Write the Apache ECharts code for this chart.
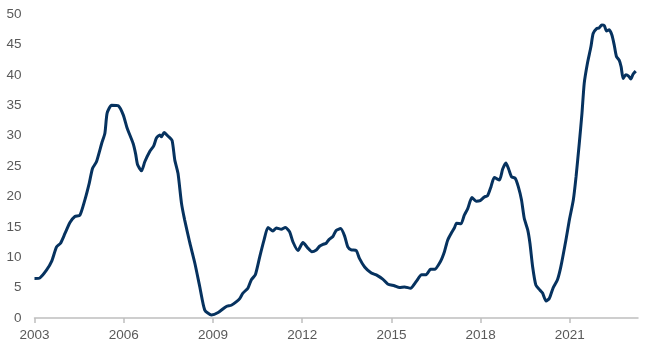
<!DOCTYPE html>
<html>
<head>
<meta charset="utf-8">
<script src="https://cdn.jsdelivr.net/npm/echarts@6/dist/echarts.min.js"></script>
<style>
  html, body { margin: 0; padding: 0; background: #fff; }
  #chart { width: 650px; height: 350px; }
</style>
</head>
<body>
<div id="chart"></div>
<script>
// x = months since Jan 2003
var months = [0, 2.2, 4.9, 6.9, 8.9, 10.5, 12.3, 14.3, 16.3, 18.3, 20.3, 22.1, 23.4, 25, 27.1, 28.4, 29.3, 31.1, 33.8, 35.8, 37.4, 39.8, 40.8, 41.6, 43.2, 44.5, 46.5, 48.1, 49.2, 50.6, 51.2, 52.3, 53.9, 55.5, 56.6, 57.9, 59.3, 60.6, 62.7, 64.7, 66.7, 68.7, 71.4, 74.1, 77.4, 79.4, 81.5, 82.8, 84.1, 86.1, 87.5, 89.1, 90.9, 92.6, 94.2, 96.2, 97.6, 99.6, 101.2, 102.9, 104.3, 106.3, 108.3, 110.3, 111.9, 113.7, 115, 116.4, 117.7, 118.8, 120.4, 121.7, 123.5, 125.1, 126.4, 127.8, 129.8, 131.1, 133.2, 135.9, 137.9, 140.5, 142.5, 145.2, 147.3, 149.3, 151.7, 154, 156.2, 158, 159.8, 161.4, 163.8, 165.4, 166.7, 168.1, 169.4, 170.3, 172.1, 173.4, 174.8, 176.5, 178.2, 179.8, 181.5, 182.8, 184.2, 185.5, 187.6, 188.9, 190.2, 191.3, 192.5, 193.9, 195.2, 196.5, 197.6, 199, 199.9, 201, 202.3, 203.9, 205, 206.4, 207.7, 209.3, 211, 212.4, 214.4, 215.8, 217.4, 218.5, 219.8, 220.9, 221.8, 223.1, 224.5, 225.4, 226.8, 227.8, 228.9, 229.9, 230.8, 231.9, 233, 233.9, 234.8, 235.9, 236.7, 237.5, 238.6, 239.7, 240.6, 241.5, 242.6];
var values = [6.5, 6.6, 7.9, 9.3, 11.7, 12.3, 13.9, 15.7, 16.7, 16.9, 19.4, 22.2, 24.6, 25.7, 28.7, 30.4, 33.7, 35.0, 34.9, 33.4, 31.2, 28.7, 27.0, 25.2, 24.2, 25.7, 27.4, 28.3, 29.6, 30.1, 29.8, 30.5, 29.9, 29.2, 26.0, 23.8, 18.9, 16.1, 12.3, 9.0, 5.1, 1.3, 0.5, 0.9, 1.9, 2.1, 2.7, 3.2, 4.1, 4.9, 6.3, 7.1, 10.1, 12.8, 14.9, 14.3, 14.8, 14.6, 14.9, 14.2, 12.5, 11.1, 12.4, 11.5, 10.9, 11.2, 11.8, 12.1, 12.3, 12.9, 13.4, 14.4, 14.7, 13.5, 11.7, 11.2, 11.1, 9.8, 8.4, 7.4, 7.1, 6.4, 5.6, 5.3, 5.0, 5.1, 4.9, 6.0, 7.1, 7.1, 8.0, 8.0, 9.3, 10.9, 12.8, 13.9, 14.8, 15.6, 15.5, 16.9, 18.0, 19.8, 19.2, 19.3, 19.9, 20.1, 21.6, 23.1, 22.7, 24.5, 25.5, 24.5, 23.2, 23.0, 21.6, 19.4, 16.4, 14.5, 12.3, 8.4, 5.4, 4.6, 4.1, 2.8, 3.2, 5.0, 6.3, 8.5, 12.8, 16.1, 19.4, 23.2, 28.7, 33.7, 38.6, 41.9, 44.6, 46.8, 47.6, 47.7, 48.2, 48.1, 47.2, 47.4, 46.5, 44.9, 43.0, 42.4, 41.3, 39.4, 40.0, 39.8, 39.3, 40.1, 40.6];
var startYear = 2003;
var yearStep = 3;

var chart = echarts.init(document.getElementById('chart'));
var points = [];
for (var i = 0; i < months.length; i++) {
    points.push([months[i], values[i]]);
}

var labelStyle = {
    color: '#595959',
    fontSize: 13.5,
    fontFamily: 'Liberation Sans, Arial, sans-serif'
};

var option = {
    backgroundColor: '#fff',
    animation: false,
    grid: { left: 34.5, right: 12, top: 14, bottom: 32, containLabel: false },
    xAxis: {
        type: 'value',
        min: 0,
        max: 243.5,
        interval: yearStep * 12,
        axisLine: { show: true, lineStyle: { color: '#bfbfbf', width: 1.5 } },
        axisTick: { show: true, length: 5, lineStyle: { color: '#bfbfbf', width: 1.5 } },
        splitLine: { show: false },
        axisLabel: Object.assign({
            margin: 10,
            showMaxLabel: false,
            formatter: function (v) { return String(startYear + Math.round(v / 12)); }
        }, labelStyle)
    },
    yAxis: {
        type: 'value',
        min: 0,
        max: 50,
        interval: 5,
        axisLine: { show: false },
        axisTick: { show: false },
        splitLine: { show: false },
        axisLabel: Object.assign({ margin: 13 }, labelStyle)
    },
    series: [{
        type: 'line',
        data: points,
        showSymbol: false,
        smooth: 0.2,
        lineStyle: { color: '#06325f', width: 3 }
    }]
};
chart.setOption(option);
</script>
</body>
</html>
